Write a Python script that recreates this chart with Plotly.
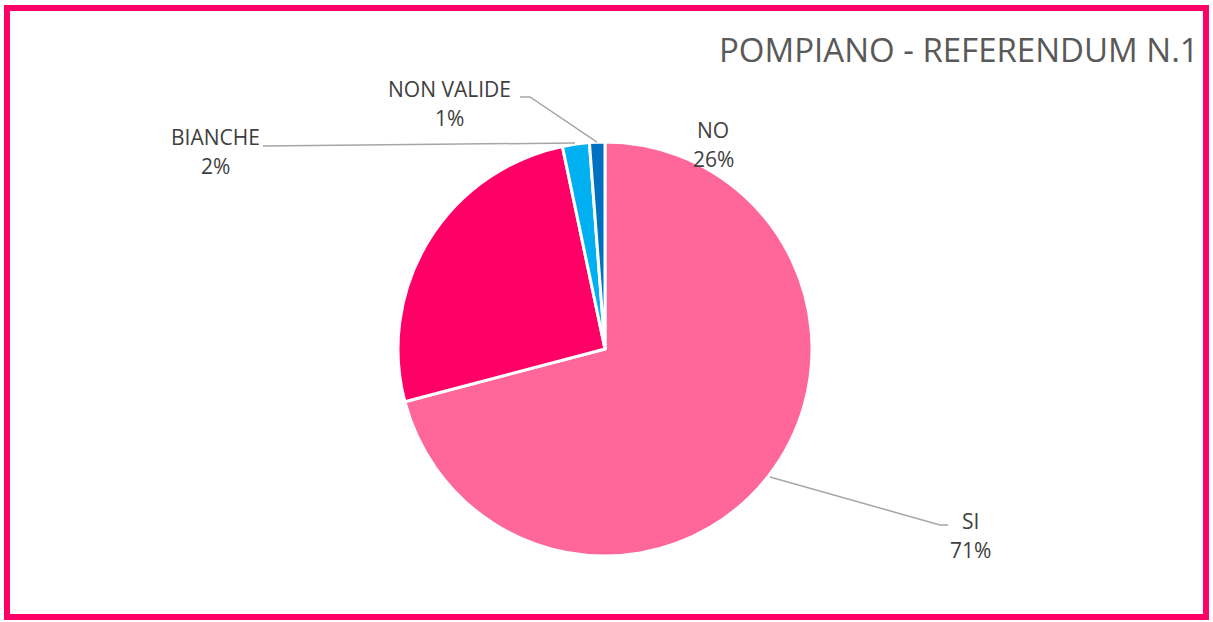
import plotly.graph_objects as go

W, H = 1213, 622

labels = ["SI", "NO", "BIANCHE", "NON VALIDE"]
values = [70.9, 25.8, 2.1, 1.2]
colors = ["#FF6699", "#FF0066", "#00B0F0", "#0070C0"]
title_text = "POMPIANO - REFERENDUM N.1"

# label centre positions (pixels, first line) and leader lines (pixels)
label_pos = {"SI": (970, 521), "NO": (713, 130), "BIANCHE": (215, 137), "NON VALIDE": (450, 89)}
leaders = {
    "SI": [(770, 477), (940, 525), (948, 525)],
    "BIANCHE": [(263, 146), (575, 143)],
    "NON VALIDE": [(520, 97), (530, 97), (597, 142)],
}

def px(x):
    return x / W

def py(y):
    return 1 - y / H

cx, cy, r = 605, 349, 207

fig = go.Figure(go.Pie(
    labels=labels, values=values, sort=False, direction="clockwise", rotation=0,
    marker=dict(colors=colors, line=dict(color="white", width=3)),
    textinfo="none", hoverinfo="label+percent", showlegend=False,
    domain=dict(x=[px(cx - r), px(cx + r)], y=[py(cy + r), py(cy - r)]),
))

total = sum(values)
ann = []
lab_font = dict(family="Open Sans", size=21, color="#404040")
for lab, v in zip(labels, values):
    x, y = label_pos[lab]
    ann.append(dict(x=px(x), y=py(y), xref="paper", yref="paper", showarrow=False,
                    xanchor="center", yanchor="middle", text=lab, font=lab_font))
    ann.append(dict(x=px(x), y=py(y + 29), xref="paper", yref="paper", showarrow=False,
                    xanchor="center", yanchor="middle",
                    text=f"{round(v / total * 100)}%", font=lab_font))
ann.append(dict(x=px(1201), y=py(50), xref="paper", yref="paper", showarrow=False,
                xanchor="right", yanchor="middle", text=title_text,
                font=dict(family="Open Sans", size=33, color="#595959")))

shapes = []
for lab, pts in leaders.items():
    path = "M " + " L ".join(f"{px(a):.5f},{py(b):.5f}" for a, b in pts)
    shapes.append(dict(type="path", path=path, xref="paper", yref="paper",
                       line=dict(color="#A6A6A6", width=1.5)))
shapes.append(dict(type="rect", xref="paper", yref="paper",
                   x0=px(7), x1=px(1206), y0=py(617), y1=py(8),
                   line=dict(color="#FF0066", width=6)))

fig.update_layout(width=W, height=H, margin=dict(l=0, r=0, t=0, b=0),
                  paper_bgcolor="white", plot_bgcolor="white",
                  annotations=ann, shapes=shapes)
fig.write_html("out.html", config={"displayModeBar": False},
               post_script="document.body.style.margin='0';document.body.style.overflow='hidden';")
